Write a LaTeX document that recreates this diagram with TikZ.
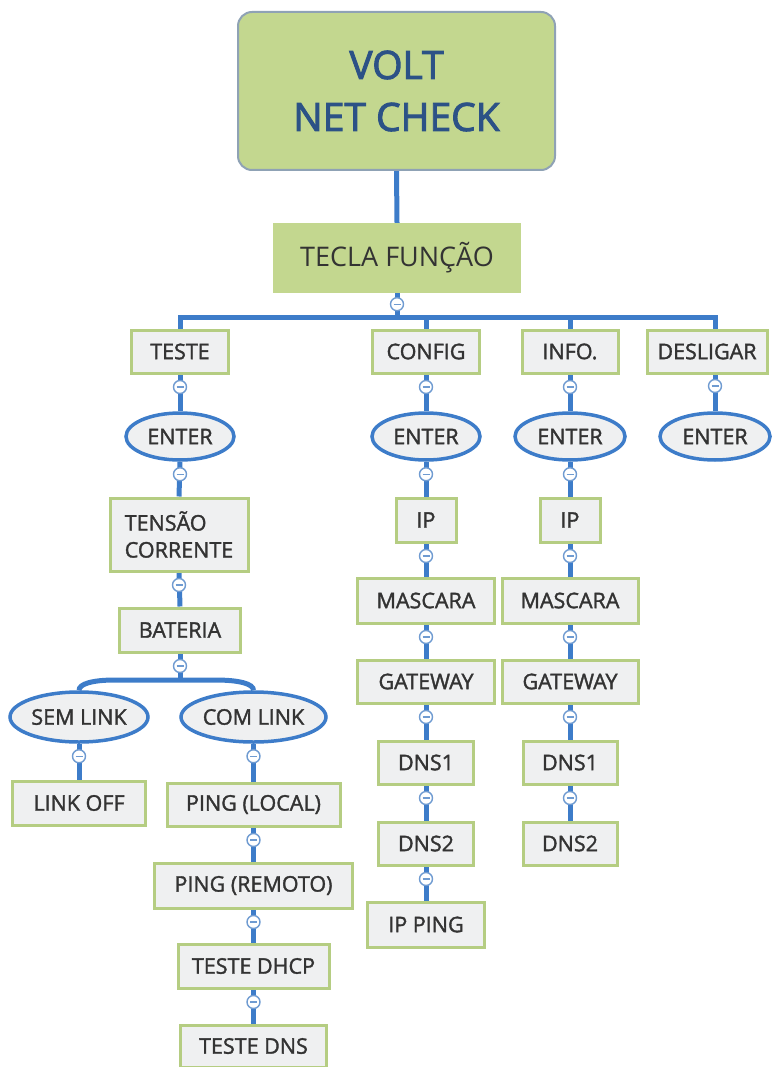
\documentclass[tikz,border=0pt]{standalone}
\usepackage{fontspec}
\setmainfont{Open Sans}
\newfontfamily\medfont{Open Sans}[FakeBold=1.6]
\newfontfamily\headfont{Open Sans}[FakeBold=2.4]
\usetikzlibrary{shapes.geometric,backgrounds}
\definecolor{lineblue}{HTML}{3D7CC9}
\definecolor{boxfill}{HTML}{EFF0F1}
\definecolor{boxgreen}{HTML}{B5CD82}
\definecolor{headgreen}{HTML}{C3D78F}
\definecolor{headborder}{HTML}{8FA2B5}
\definecolor{headtext}{HTML}{2C5286}
\definecolor{txt}{HTML}{333333}
\definecolor{togline}{HTML}{6F9BD1}
\begin{document}
\begin{tikzpicture}[x=1pt,y=-1pt,
 box/.style={draw=boxgreen, line width=3pt, fill=boxfill, text=txt, font=\medfont\fontsize{21.5}{24}\selectfont, inner sep=0pt, minimum height=43pt},
 oval/.style={ellipse, draw=lineblue, line width=3.5pt, fill=boxfill, text=txt, font=\medfont\fontsize{21.5}{24}\selectfont, inner sep=0pt, minimum height=47pt},
 head/.style={rounded corners=14pt, fill=headgreen, draw=headborder, line width=2pt, text=headtext, font=\headfont\fontsize{39}{52}\selectfont, align=center, inner sep=0pt},
 sub/.style={fill=headgreen, text=txt, font=\fontsize{27}{32}\selectfont, inner sep=0pt},
 conn/.style={draw=lineblue, line width=5pt},
 tog/.style={circle, draw=togline, line width=1.4pt, fill=white, minimum size=13pt, inner sep=0pt,
   path picture={\draw[togline, line width=1.3pt] ([xshift=-3.5pt]path picture bounding box.center) -- ([xshift=3.5pt]path picture bounding box.center);}}
]
\useasboundingbox (0,0) rectangle (780,1067);
% header
\node[head, minimum width=317pt, minimum height=158pt] (volt) at (396.5,91) {VOLT\\NET CHECK};
\node[sub, minimum width=248pt, minimum height=70pt] (tecla) at (397,258) {TECLA FUNÇÃO};
% first row
\node[box, minimum width=97pt] (teste) at (180,351.5) {TESTE};
\node[box, minimum width=107pt] (config) at (426,351.5) {CONFIG};
\node[box, minimum width=96pt] (info) at (570,351.5) {INFO.};
\node[box, minimum width=120pt] (desligar) at (707,351.5) {DESLIGAR};
% enter row
\node[oval, minimum width=108pt] (e1) at (180,436.5) {ENTER};
\node[oval, minimum width=108pt] (e2) at (426,436.5) {ENTER};
\node[oval, minimum width=110pt] (e3) at (570,436.5) {ENTER};
\node[oval, minimum width=110pt] (e4) at (715,436.5) {ENTER};
% TESTE column
\node[box, minimum width=138pt, minimum height=73pt, align=left, font=\medfont\fontsize{21.5}{27}\selectfont] (tensao) at (179,534.5) {TENSÃO\\CORRENTE};
\node[box, minimum width=121pt, minimum height=44pt] (bateria) at (180,630) {BATERIA};
\coordinate (archtop) at (180,680);
\node[oval, minimum width=138pt, minimum height=50pt] (semlink) at (79,717) {SEM LINK};
\node[oval, minimum width=145pt, minimum height=50pt] (comlink) at (253.5,717) {COM LINK};
\node[box, minimum width=133pt, minimum height=44pt] (linkoff) at (79,803) {LINK OFF};
\node[box, minimum width=173pt] (pinglocal) at (253.5,804.5) {PING (LOCAL)};
\node[box, minimum width=198pt, minimum height=45pt] (pingrem) at (253.5,885.5) {PING (REMOTO)};
\node[box, minimum width=151pt, minimum height=44pt] (dhcp) at (253.5,966) {TESTE DHCP};
\node[box, minimum width=146pt, minimum height=42pt] (tdns) at (253.5,1046) {TESTE DNS};
% CONFIG column
\node[box, minimum width=60pt, minimum height=44pt] (ipa) at (426,520) {IP};
\node[box, minimum width=137pt, minimum height=45pt] (masca) at (426,600.5) {MASCARA};
\node[box, minimum width=137pt] (gwa) at (426,681.5) {GATEWAY};
\node[box, minimum width=95pt] (dnsonea) at (426,762.5) {DNS1};
\node[box, minimum width=95pt] (dnstwoa) at (426,843.5) {DNS2};
\node[box, minimum width=117pt, minimum height=45pt] (ipping) at (426,924.5) {IP PING};
% INFO column
\node[box, minimum width=60pt, minimum height=44pt] (ipb) at (570,520) {IP};
\node[box, minimum width=136pt, minimum height=45pt] (mascb) at (570,600.5) {MASCARA};
\node[box, minimum width=136pt] (gwb) at (570,681.5) {GATEWAY};
\node[box, minimum width=94pt] (dnsoneb) at (570,762.5) {DNS1};
\node[box, minimum width=94pt] (dnstwob) at (570,843.5) {DNS2};
\coordinate (busr) at (715,317);
% connectors
\begin{scope}[on background layer]
\draw[conn] (volt.south) -- (tecla.north);
\draw[conn] (tecla.south) -- (tecla.south |- busr);
\draw[conn, line join=miter] (teste.north) |- (busr) -- (busr |- desligar.north);
\draw[conn] (config.north |- busr) -- (config.north);
\draw[conn] (info.north |- busr) -- (info.north);
\draw[conn] (desligar.south -| e4.north) -- (e4.north);
\foreach \a/\b in {teste/e1, e1/tensao, tensao/bateria, config/e2, e2/ipa, ipa/masca, masca/gwa, gwa/dnsonea, dnsonea/dnstwoa, dnstwoa/ipping, info/e3, e3/ipb, ipb/mascb, mascb/gwb, gwb/dnsoneb, dnsoneb/dnstwob, semlink/linkoff, comlink/pinglocal, pinglocal/pingrem, pingrem/dhcp, dhcp/tdns}
  \draw[conn] (\a.south) -- (\b.north);
\draw[conn] (bateria.south) -- (archtop);
\draw[conn] (semlink.north) .. controls (79,684) and (92,680) .. (115,680) -- (215,680) .. controls (240,680) and (253.5,684) .. (comlink.north);
\end{scope}
% toggles
\node[tog] (ttecla) at ([yshift=-11pt]tecla.south) {};
\foreach \a in {teste, config, info, e1, e2, e3, tensao, bateria, semlink, comlink, pinglocal, pingrem, dhcp, ipa, masca, gwa, dnsonea, dnstwoa, ipb, mascb, gwb, dnsoneb}
  \node[tog] (t\a) at ([yshift=-12.5pt]\a.south) {};
\node[tog] (tdesligar) at (715,386) {};
\end{tikzpicture}
\end{document}
